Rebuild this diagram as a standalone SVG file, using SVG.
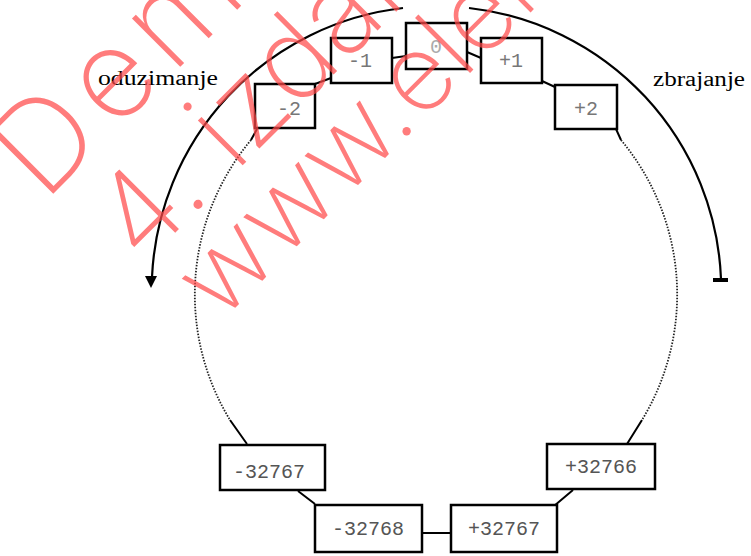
<svg xmlns="http://www.w3.org/2000/svg" width="751" height="556" viewBox="0 0 751 556">
<style>
.box{fill:#fff;stroke:#000;stroke-width:2.5}
.lbl{font-family:"Liberation Mono","DejaVu Sans Mono",monospace;font-size:20px;text-anchor:middle;fill:#555}
.lt{fill:#777}
.word{font-family:"Liberation Serif","Times New Roman",serif;font-size:20px;fill:#000}
.ln{stroke:#000;stroke-width:2;fill:none}
.dot{stroke:#222;stroke-width:1.8;fill:none;stroke-dasharray:1.5 1.5}
.arc{stroke:#000;stroke-width:2.2;fill:none}
.wm{font-family:Inter,"Noto Sans",Roboto,sans-serif;font-weight:200;fill:#ff4a4a;fill-opacity:0.72}
</style>
<rect width="751" height="556" fill="#fff"/>
<g id="connectors">
<path class="arc" d="M403 8 A284 284 0 0 0 152 277"/>
<polygon points="145,276 157,276 151,288" fill="#000"/>
<path class="arc" d="M469 8 A284 284 0 0 1 721 279"/>
<rect x="713" y="278" width="15" height="4" fill="#000"/>
<path class="dot" d="M251 140 A241 241 0 0 0 230 420"/>
<path class="dot" d="M621 140 A241 241 0 0 1 642 420"/>
<path class="ln" d="M257 129 L251 140 M230 420 L247 444 M616 129 L621 140 M642 420 L627 444"/>
<path class="ln" d="M315 84 L331 78 M392 58 L406 56 M467 52 L481 58 M542 81 L555 87"/>
<path class="ln" d="M298 491 L315 504 M422 533 L451 533 M554 506 L573 490"/>
</g>
<g id="n-2"><rect class="box" x="255" y="84" width="60" height="44"/><text class="lbl lt" x="289" y="115">-2</text></g>
<g id="n-1"><rect class="box" x="331" y="38" width="61" height="45"/><text class="lbl lt" x="360" y="67">-1</text></g>
<g id="n0"><rect class="box" x="406" y="23" width="61" height="46"/><text class="lbl" x="436" y="53" style="fill:#aaa">0</text></g>
<g id="n+1"><rect class="box" x="481" y="38" width="61" height="45"/><text class="lbl lt" x="511" y="67">+1</text></g>
<g id="n+2"><rect class="box" x="555" y="85" width="62" height="44"/><text class="lbl lt" x="586" y="115">+2</text></g>
<g id="n-32767"><rect class="box" x="220" y="445" width="105" height="45"/><text class="lbl" x="269" y="478">-32767</text></g>
<g id="n-32768"><rect class="box" x="315" y="505" width="107" height="47"/><text class="lbl" x="368" y="535">-32768</text></g>
<g id="n+32767"><rect class="box" x="451" y="505" width="106" height="47"/><text class="lbl" x="504" y="535">+32767</text></g>
<g id="n+32766"><rect class="box" x="547" y="444" width="108" height="45"/><text class="lbl" x="601" y="473">+32766</text></g>
<g id="labels">
<text class="word" x="98" y="85" textLength="120" lengthAdjust="spacingAndGlyphs">oduzimanje</text>
<text class="word" x="653" y="86" textLength="92" lengthAdjust="spacingAndGlyphs">zbrajanje</text>
</g>
<g id="watermark">
<text class="wm" font-size="125" letter-spacing="10" transform="translate(44 203) rotate(-45)">Demo</text>
<text class="wm" font-size="116" transform="translate(142 266) rotate(-45)">4. izdanje</text>
<text class="wm" font-size="107" transform="translate(220 323) rotate(-45)">www.element.hr</text>
</g>
</svg>
